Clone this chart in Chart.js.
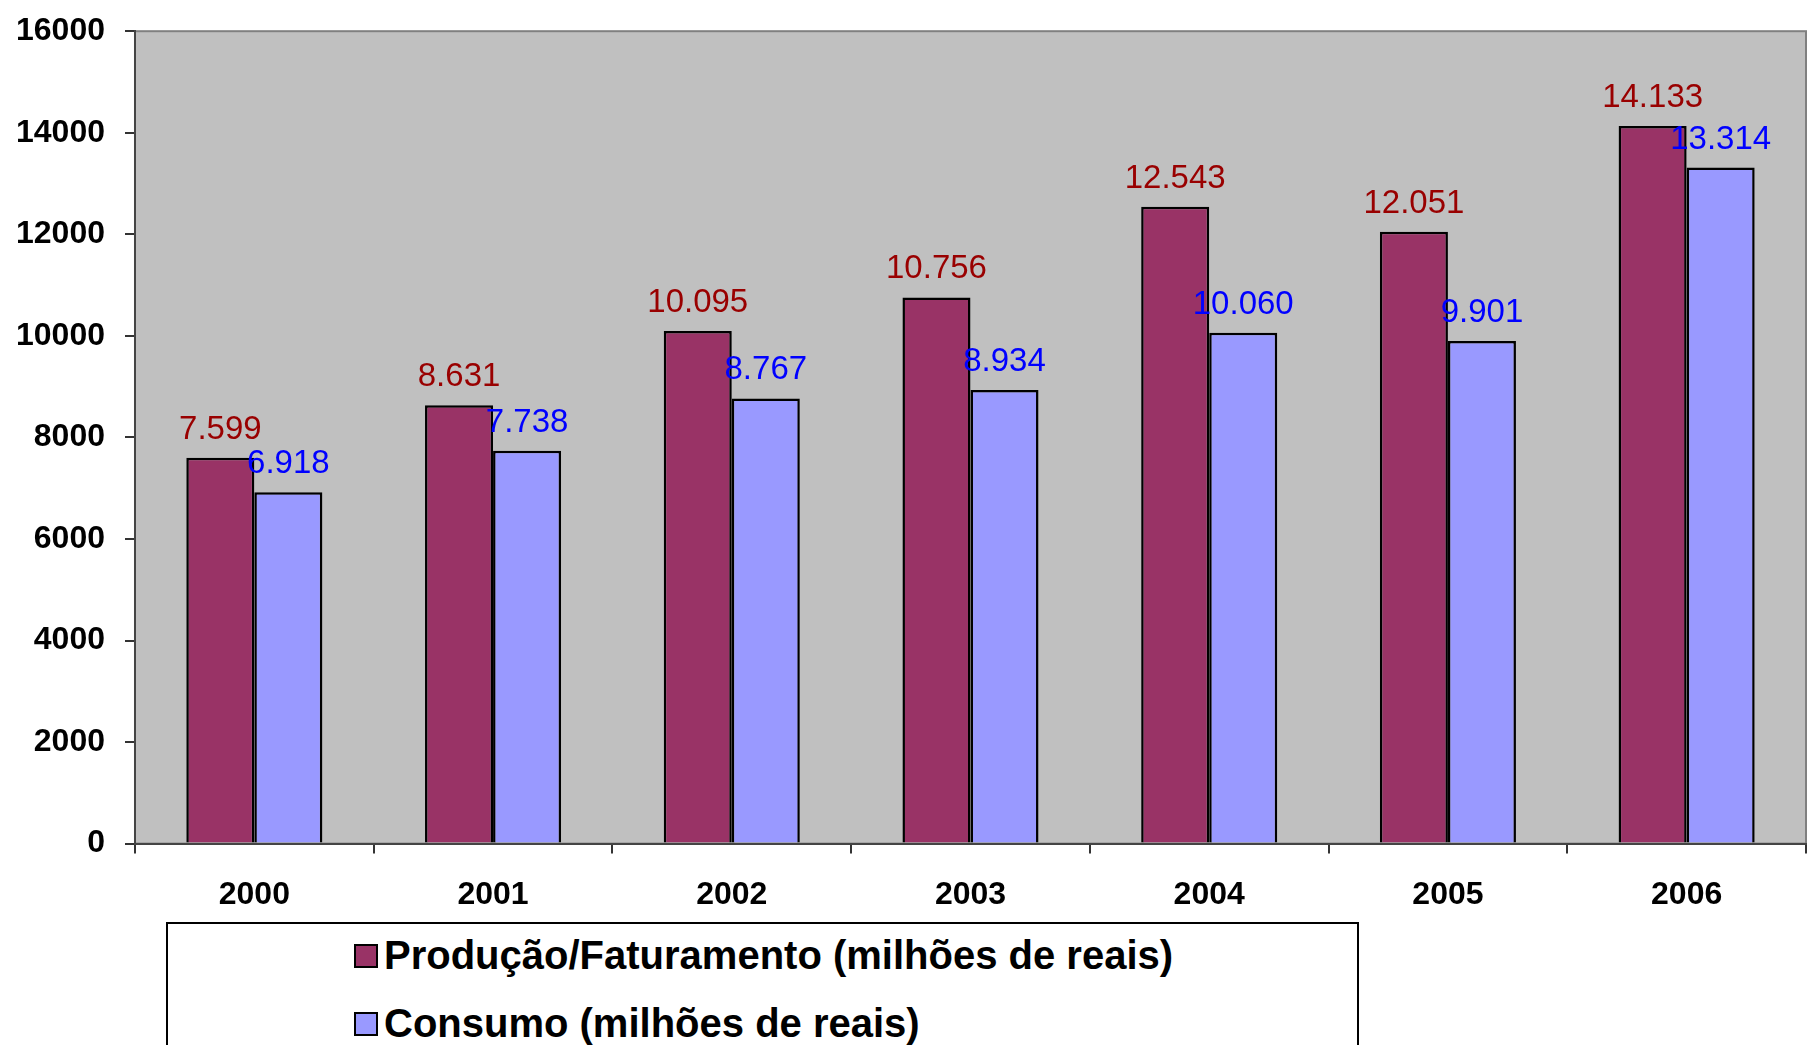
<!DOCTYPE html>
<html>
<head>
<meta charset="utf-8">
<script src="https://cdn.jsdelivr.net/npm/chart.js@4.4.1/dist/chart.umd.min.js"></script>
<style>
  html, body { margin: 0; padding: 0; background: #fff; }
  #wrap { position: relative; width: 1820px; height: 1045px; overflow: hidden; }
  #legend {
    position: absolute; left: 166px; top: 922px; width: 1193px; height: 140px;
    border: 2px solid #000; box-sizing: border-box; background: #fff;
    font-family: Arial, "Liberation Sans", sans-serif; font-weight: bold; font-size: 40px;
  }
  .item { position: absolute; left: 186px; display: flex; align-items: center; white-space: nowrap; }
  .box { width: 20px; height: 20px; border: 2px solid #000; margin-right: 6px; }
</style>
</head>
<body>
<div id="wrap">
  <canvas id="myChart" width="1820" height="1045"></canvas>
  <div id="legend"></div>
</div>
<script>
// Data
const years = ['2000', '2001', '2002', '2003', '2004', '2005', '2006'];
const producao = [7599, 8631, 10095, 10756, 12543, 12051, 14133];
const consumo = [6918, 7738, 8767, 8934, 10060, 9901, 13314];
const labelProducao = 'Produção/Faturamento (milhões de reais)';
const labelConsumo = 'Consumo (milhões de reais)';

// thousands separator with a dot, like the original
function fmt(v) {
  return String(v).replace(/\B(?=(\d{3})+(?!\d))/g, '.');
}

// grey plot area and its frame
const plotBg = {
  id: 'plotBg',
  beforeDraw(chart) {
    const a = chart.chartArea, c = chart.ctx;
    c.save();
    c.fillStyle = '#C0C0C0';
    c.fillRect(a.left, a.top, a.right - a.left, a.bottom - a.top);
    c.strokeStyle = '#808080';
    c.lineWidth = 2;
    c.strokeRect(a.left, a.top, a.right - a.left, a.bottom - a.top);
    c.restore();
  }
};

// value labels above each bar
const valueLabels = {
  id: 'valueLabels',
  afterDatasetsDraw(chart) {
    const c = chart.ctx;
    c.save();
    c.font = '33px Arial, "Liberation Sans", sans-serif';
    c.textAlign = 'center';
    c.textBaseline = 'alphabetic';
    chart.data.datasets.forEach((ds, i) => {
      chart.getDatasetMeta(i).data.forEach((bar, j) => {
        c.fillStyle = ds.labelColor;
        c.fillText(fmt(ds.data[j]), bar.x, bar.y - 19);
      });
    });
    c.restore();
  }
};

var ctx = document.getElementById('myChart').getContext('2d');
var myChart = new Chart(ctx, {
  type: 'bar',
  data: {
    labels: years,
    datasets: [{
      label: labelProducao,
      data: producao,
      backgroundColor: '#993366',
      borderColor: '#000',
      borderWidth: 2.5,
      labelColor: '#990000',
      categoryPercentage: 0.57,
      barPercentage: 1.0
    }, {
      label: labelConsumo,
      data: consumo,
      backgroundColor: '#9999FF',
      borderColor: '#000',
      borderWidth: 2.5,
      labelColor: '#0000FF',
      categoryPercentage: 0.57,
      barPercentage: 1.0
    }]
  },
  options: {
    responsive: false,
    animation: false,
    layout: { padding: { left: -4, right: 14, top: 0, bottom: 109 } },
    plugins: { legend: { display: false }, tooltip: { enabled: false } },
    scales: {
      x: {
        grid: { drawOnChartArea: false, tickLength: 10, color: '#333', lineWidth: 2, offset: true },
        border: { color: '#444', width: 2 },
        ticks: { color: '#000', padding: 22, font: { family: 'Arial, "Liberation Sans", sans-serif', size: 32, weight: 'bold' } }
      },
      y: {
        min: 0,
        max: 16000,
        grid: { drawOnChartArea: false, tickLength: 10, color: '#333', lineWidth: 2 },
        border: { color: '#444', width: 2 },
        ticks: {
          stepSize: 2000, color: '#000', padding: 20,
          font: { family: 'Arial, "Liberation Sans", sans-serif', size: 32, weight: 'bold', lineHeight: 0.7 },
          callback: v => String(v)
        }
      }
    }
  },
  plugins: [plotBg, valueLabels]
});

// legend box built from the datasets
const legend = document.getElementById('legend');
myChart.data.datasets.forEach((ds, i) => {
  const row = document.createElement('div');
  row.className = 'item';
  row.style.top = (i === 0 ? 9 : 77) + 'px';
  row.innerHTML = '<span class="box" style="background:' + ds.backgroundColor + '"></span><span>' + ds.label + '</span>';
  legend.appendChild(row);
});
</script>
</body>
</html>
